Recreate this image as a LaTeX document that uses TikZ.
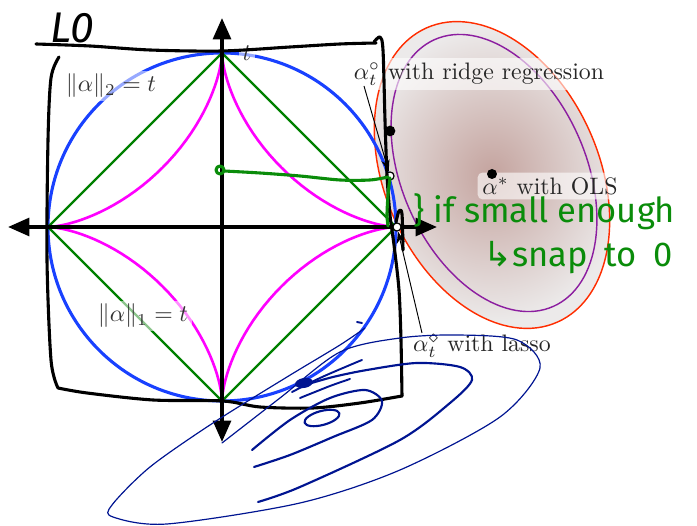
\documentclass[tikz,border=0pt]{standalone}
\usepackage{amsmath}
\usepackage{fontspec}
\newfontfamily\inkfont{Fira Sans}
\newfontfamily\arrowfont{DejaVu Sans}
\usetikzlibrary{positioning,arrows.meta}

\definecolor{ringblue}{RGB}{25,65,255}
\definecolor{diamgreen}{RGB}{0,128,0}
\definecolor{cuspmagenta}{RGB}{255,0,255}
\definecolor{inkgreen}{RGB}{10,140,10}
\definecolor{inknavy}{RGB}{0,20,145}
\definecolor{olsred}{RGB}{255,45,0}
\definecolor{olspurple}{RGB}{140,30,160}
\definecolor{olsin}{RGB}{196,163,158}
\definecolor{olsout}{RGB}{236,234,234}

\begin{document}
\begin{tikzpicture}[
    x=0.42pt, y=-0.42pt,
    axis/.style={
        line width=1.5pt,
        {Triangle[length=9pt,width=7.5pt]}-{Triangle[length=9pt,width=7.5pt]}
    },
    ring/.style={draw=ringblue, line width=1.3pt},
    l1ball/.style={draw=diamgreen, line width=0.9pt},
    lpball/.style={draw=cuspmagenta, line width=1.1pt},
    normlabel/.style={
        fill=white,
        fill opacity=0.55,
        text opacity=1,
        text=black!80,
        inner sep=1.5pt
    },
    callout/.style={
        fill=white,
        fill opacity=0.6,
        text opacity=1,
        text=black!85,
        rounded corners=2pt,
        inner sep=2pt
    },
    hollowdot/.style={circle, draw, fill=white, line width=0.5pt, inner sep=0pt, minimum size=3.4pt},
    soliddot/.style={circle, fill, inner sep=0pt, minimum size=4.2pt},
    pointer/.style={-{Stealth[length=5pt,width=3.5pt]}, line width=0.4pt},
    ink/.style={line width=1.3pt, line cap=round, line join=round},
    inknote/.style={
        text=inkgreen,
        font=\inkfont\fontsize{14.5}{17}\selectfont,
        inner sep=0pt
    }
]
\useasboundingbox (0,0) rectangle (697,526);

% OLS ellipse
\shade[inner color=olsin, outer color=olsout, rotate around={114:(492,175)}]
    (492,175) ellipse [x radius=161, y radius=107];
\draw[olsred, line width=0.6pt, rotate around={114:(492,175)}]
    (492,175) ellipse [x radius=161, y radius=107];
\draw[olspurple, line width=0.6pt, rotate around={114:(494,173)}]
    (494,173) ellipse [x radius=146, y radius=92];

% balls
\coordinate (O) at (222,227);
\draw[ring] (O) circle (174);
\draw[l1ball] (222,53) -- (396,227) -- (222,401) -- (48,227) -- cycle;
\draw[lpball] plot[domain=1:361, samples=181, variable=\t]
    ({222+174*sign(cos(\t))*abs(cos(\t))^3.1}, {227+174*sign(sin(\t))*abs(sin(\t))^3.1}) -- cycle;

% axes
\coordinate (xmin) at (8,227);
\coordinate (xmax) at (437,227);
\coordinate (ymax) at (222,18);
\coordinate (ymin) at (222,442);
\draw[axis] (xmin) -- (xmax);
\draw[axis] (ymin) -- (ymax);

% labels
\node[normlabel] (tlbl) at (247,53) {$t$};
\node[normlabel] (l2lbl) at (111,86) {$\|\alpha\|_2 = t$};
\node[normlabel] (l1lbl) at (143,316) {$\|\alpha\|_1 = t$};
\node[callout] (ridgelbl) at (479,74) {$\alpha_t^\circ$ with ridge regression};
\node[callout] (olslbl) at (550,186) {$\alpha^*$ with OLS};
\node[callout] (lassolbl) at (482,346) {$\alpha_t^\diamond$ with lasso};

% points
\node[hollowdot] (ridgept) at (390,176) {};
\node[hollowdot] (lassopt) at (397,227) {};
\node[soliddot] (olspt) at (492,174) {};

\coordinate (ridgefoot) at (364,86);
\coordinate (lassofoot) at (422,333);
\draw[pointer] (ridgefoot) -- (ridgept);
\draw[pointer] (lassofoot) -- (lassopt);

% handwritten: black
\node[font=\inkfont\itshape\fontsize{18}{19}\selectfont, inner sep=0pt] (lzero) at (72,28) {L0};
\draw[ink] plot[smooth] coordinates {(36,44) (90,46) (150,50) (222,51) (290,47) (340,44) (376,43)};
\draw[ink] plot[smooth] coordinates {(374,42) (380,37) (383,50) (385,120) (387,175) (390,215) (394,245) (399,290) (401,340) (402,396)};
\draw[ink] plot[smooth] coordinates {(396,222) (399,211) (402,214) (403,250)};
\draw[ink] plot[smooth] coordinates {(59,57) (51,78) (48,140) (47,260) (51,360) (58,388)};
\draw[ink] plot[smooth] coordinates {(58,388) (87,393) (153,400) (223,401) (260,407) (313,408) (360,403) (402,396)};
\node[soliddot, minimum size=4.5pt] (inkdot) at (390,131) {};

% handwritten: green
\draw[ink, inkgreen] (220,170) circle (4);
\draw[ink, inkgreen] plot[smooth] coordinates {(224,171) (260,173) (300,176) (340,180) (370,180) (388,177)};
\draw[ink, inkgreen] plot[smooth] coordinates {(390,178) (388,195) (387,215) (388,226)};
\node[inknote, anchor=base west] (smallnote) at (413,223) {\} if small enough};
\node[inknote, anchor=base west] (snapnote) at (483,267) {\spaceskip=7pt {\arrowfont ↳}snap to 0};

% handwritten: navy contours
\draw[ink, inknavy, line width=0.5pt] plot[smooth] coordinates {(222,443) (280,398) (340,352) (400,338) (457,335) (517,340) (540,368) (500,417) (400,470) (300,503) (167,524) (113,517) (112,505) (150,467) (213,423) (287,377) (340,345) (365,328)};
\draw[ink, inknavy, line width=0.9pt] plot[smooth] coordinates {(258,502) (300,487) (400,440) (450,403) (472,380) (460,367) (417,363) (367,370) (333,377) (305,385)};
\draw[ink, inknavy, line width=0.9pt] plot[smooth] coordinates {(252,450) (290,420) (330,398) (365,390) (382,401) (372,420) (333,437) (290,455) (254,467)};
\draw[ink, inknavy, line width=0.9pt, rotate around={15:(322,418)}] (322,418) ellipse [x radius=18, y radius=7];
\fill[inknavy, rotate around={10:(304,383)}] (304,383) ellipse [x radius=9, y radius=5];
\draw[ink, inknavy, line width=0.8pt] plot[smooth] coordinates {(292,392) (320,378) (350,365) (362,360)};
\draw[ink, inknavy, line width=0.8pt] plot[smooth] coordinates {(300,398) (330,386) (350,379)};
\draw[ink, inknavy, line width=0.8pt] (357,322) -- (362,323);

\end{tikzpicture}
\end{document}
